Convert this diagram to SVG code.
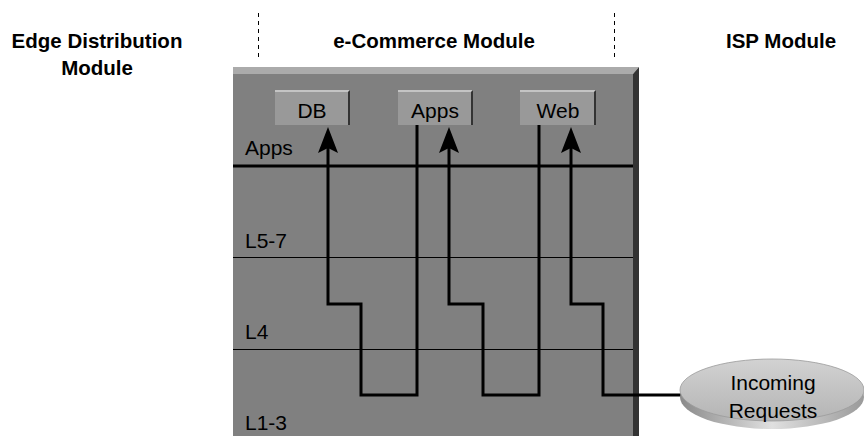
<svg xmlns="http://www.w3.org/2000/svg" width="864" height="436" viewBox="0 0 864 436">
<style>
.hdr{font-family:"Liberation Sans",Arial,sans-serif;font-weight:bold;font-size:20.5px;fill:#000;text-anchor:middle}
.lbl{font-family:"Liberation Sans",Arial,sans-serif;font-size:21px;fill:#000}
.btxt{font-family:"Liberation Sans",Arial,sans-serif;font-size:21px;fill:#000;text-anchor:middle}
.flow{fill:none;stroke:#000;stroke-width:3;stroke-linejoin:miter}
.dash{stroke:#000;stroke-width:1;stroke-dasharray:4 4}
.bface{fill:#999999}
.btop{fill:#c4c4c4}
.bside{fill:#333333}
</style>
<defs>
<marker id="ah" viewBox="-26 -10 26 20" refX="-18" refY="0" markerWidth="26" markerHeight="20" markerUnits="userSpaceOnUse" orient="auto">
<path d="M0,0 L-26,-10 L-21,0 L-26,10 Z" fill="#000"/>
</marker>
<linearGradient id="eltop" x1="0" y1="0" x2="0" y2="1">
<stop offset="0" stop-color="#d2d2d2"/>
<stop offset="1" stop-color="#b4b4b4"/>
</linearGradient>
<linearGradient id="elside" x1="0" y1="0" x2="1" y2="0">
<stop offset="0" stop-color="#8a8a8a"/>
<stop offset="0.5" stop-color="#e0e0e0"/>
<stop offset="1" stop-color="#9a9a9a"/>
</linearGradient>
</defs>

<g id="headers">
<text class="hdr" x="97" y="48">Edge Distribution</text>
<text class="hdr" x="97" y="75">Module</text>
<text class="hdr" x="434" y="48">e-Commerce Module</text>
<text class="hdr" x="781" y="48">ISP Module</text>
<line class="dash" x1="258.5" y1="13" x2="258.5" y2="57"/>
<line class="dash" x1="614.5" y1="13" x2="614.5" y2="57"/>
</g>

<g id="ecommerce-module">
<polygon points="233,67 639,67 633,74 233,74" fill="#ababab"/>
<polygon points="633,74 639,67 639,436 633,436" fill="#333333"/>
<rect x="233" y="74" width="400" height="362" fill="#808080"/>
<line x1="233" y1="166" x2="633" y2="166" stroke="#000" stroke-width="3"/>
<line x1="233" y1="257.5" x2="633" y2="257.5" stroke="#000" stroke-width="1"/>
<line x1="233" y1="349.5" x2="633" y2="349.5" stroke="#000" stroke-width="1"/>
<text class="lbl" x="245" y="155">Apps</text>
<text class="lbl" x="245" y="248">L5-7</text>
<text class="lbl" x="245" y="339">L4</text>
<text class="lbl" x="245" y="430">L1-3</text>
</g>

<g id="db">
<rect class="bface" x="275" y="90" width="75" height="35"/>
<polygon class="btop" points="275,90 350,90 348,92 275,92"/>
<polygon class="bside" points="348,92 350,90 350,125 348,125"/>
<text class="btxt" x="312" y="118">DB</text>
</g>

<g id="apps">
<rect class="bface" x="398" y="90" width="75" height="35"/>
<polygon class="btop" points="398,90 473,90 471,92 398,92"/>
<polygon class="bside" points="471,92 473,90 473,125 471,125"/>
<text class="btxt" x="435" y="118">Apps</text>
</g>

<g id="web">
<rect class="bface" x="520" y="90" width="76" height="35"/>
<polygon class="btop" points="520,90 596,90 594,92 520,92"/>
<polygon class="bside" points="594,92 596,90 596,125 594,125"/>
<text class="btxt" x="558" y="118">Web</text>
</g>

<g id="connectors">
<path class="flow" d="M417,125 L417,395 L361,395 L361,304 L328,304 L328,145" marker-end="url(#ah)"/>
<path class="flow" d="M539,125 L539,395 L483,395 L483,304 L449,304 L449,145" marker-end="url(#ah)"/>
<path class="flow" d="M681,395 L603,395 L603,304 L571,304 L571,145" marker-end="url(#ah)"/>
</g>

<g id="incoming-requests">
<ellipse cx="772" cy="397" rx="92" ry="32" fill="url(#elside)"/>
<ellipse cx="772" cy="390" rx="92" ry="31" fill="url(#eltop)" stroke="#9a9a9a" stroke-width="0.8"/>
<text class="btxt" x="773" y="390">Incoming</text>
<text class="btxt" x="773" y="418">Requests</text>
</g>
</svg>
